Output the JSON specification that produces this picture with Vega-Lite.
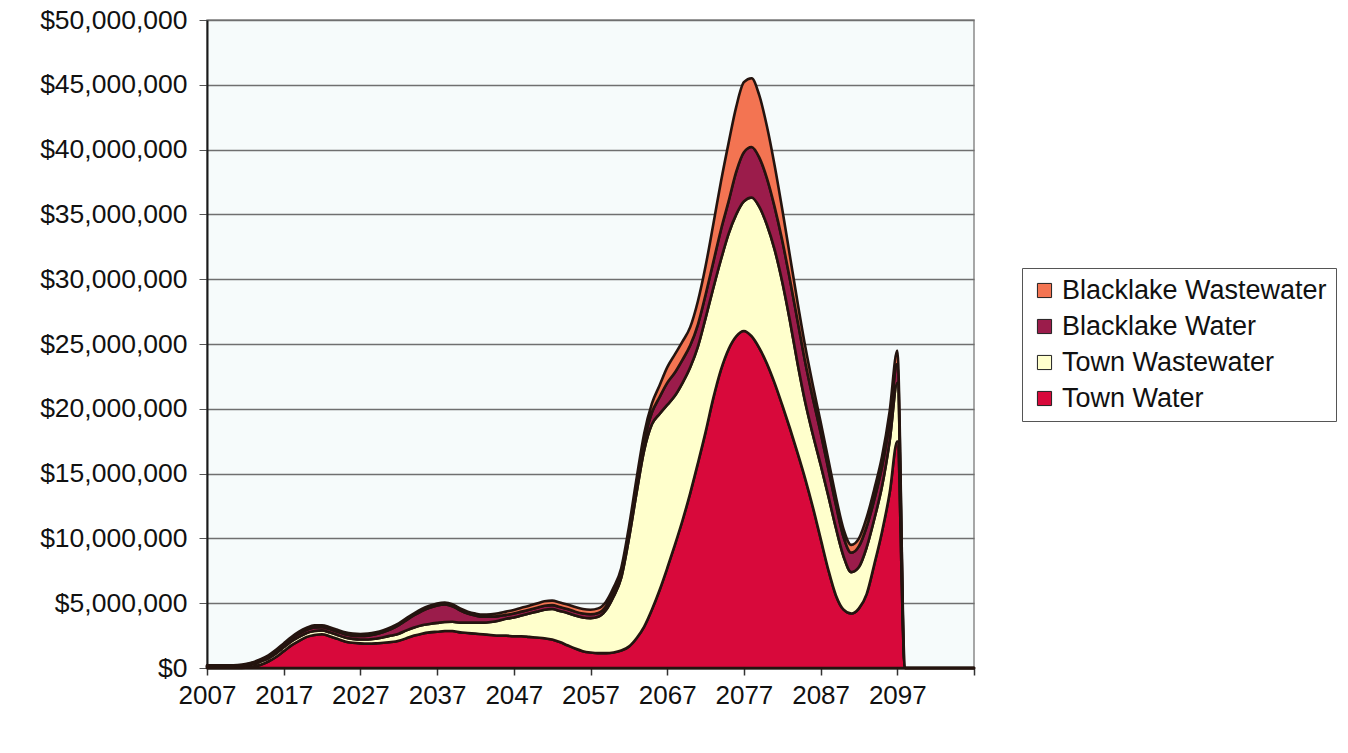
{
  "$schema": "https://vega.github.io/schema/vega-lite/v6.json",
  "width": 767,
  "height": 648,
  "autosize": {"type": "none"},
  "padding": {"left": 207, "top": 20, "right": 374, "bottom": 85},
  "background": "#ffffff",
  "config": {
    "font": "Liberation Sans",
    "view": {"fill": "#f6fbfb", "stroke": "#8a8a8a", "strokeWidth": 1.5}
  },
  "data": {
    "values": [
      {"year": 2007, "Town Water": 0, "Town Wastewater": 100000, "Blacklake Water": 50000, "Blacklake Wastewater": 50000},
      {"year": 2008, "Town Water": 0, "Town Wastewater": 100000, "Blacklake Water": 50000, "Blacklake Wastewater": 50000},
      {"year": 2009, "Town Water": 0, "Town Wastewater": 100000, "Blacklake Water": 50000, "Blacklake Wastewater": 50000},
      {"year": 2010, "Town Water": 0, "Town Wastewater": 100000, "Blacklake Water": 50000, "Blacklake Wastewater": 50000},
      {"year": 2011, "Town Water": 0, "Town Wastewater": 120000, "Blacklake Water": 60000, "Blacklake Wastewater": 50000},
      {"year": 2012, "Town Water": 20000, "Town Wastewater": 150000, "Blacklake Water": 80000, "Blacklake Wastewater": 50000},
      {"year": 2013, "Town Water": 100000, "Town Wastewater": 200000, "Blacklake Water": 100000, "Blacklake Wastewater": 50000},
      {"year": 2014, "Town Water": 250000, "Town Wastewater": 250000, "Blacklake Water": 120000, "Blacklake Wastewater": 60000},
      {"year": 2015, "Town Water": 500000, "Town Wastewater": 250000, "Blacklake Water": 150000, "Blacklake Wastewater": 80000},
      {"year": 2016, "Town Water": 850000, "Town Wastewater": 280000, "Blacklake Water": 170000, "Blacklake Wastewater": 100000},
      {"year": 2017, "Town Water": 1300000, "Town Wastewater": 300000, "Blacklake Water": 200000, "Blacklake Wastewater": 100000},
      {"year": 2018, "Town Water": 1750000, "Town Wastewater": 300000, "Blacklake Water": 220000, "Blacklake Wastewater": 120000},
      {"year": 2019, "Town Water": 2100000, "Town Wastewater": 300000, "Blacklake Water": 250000, "Blacklake Wastewater": 150000},
      {"year": 2020, "Town Water": 2400000, "Town Wastewater": 300000, "Blacklake Water": 250000, "Blacklake Wastewater": 150000},
      {"year": 2021, "Town Water": 2550000, "Town Wastewater": 300000, "Blacklake Water": 270000, "Blacklake Wastewater": 170000},
      {"year": 2022, "Town Water": 2600000, "Town Wastewater": 300000, "Blacklake Water": 250000, "Blacklake Wastewater": 150000},
      {"year": 2023, "Town Water": 2450000, "Town Wastewater": 300000, "Blacklake Water": 250000, "Blacklake Wastewater": 150000},
      {"year": 2024, "Town Water": 2250000, "Town Wastewater": 300000, "Blacklake Water": 250000, "Blacklake Wastewater": 150000},
      {"year": 2025, "Town Water": 2050000, "Town Wastewater": 300000, "Blacklake Water": 250000, "Blacklake Wastewater": 150000},
      {"year": 2026, "Town Water": 1950000, "Town Wastewater": 300000, "Blacklake Water": 250000, "Blacklake Wastewater": 150000},
      {"year": 2027, "Town Water": 1900000, "Town Wastewater": 300000, "Blacklake Water": 270000, "Blacklake Wastewater": 150000},
      {"year": 2028, "Town Water": 1880000, "Town Wastewater": 320000, "Blacklake Water": 300000, "Blacklake Wastewater": 150000},
      {"year": 2029, "Town Water": 1900000, "Town Wastewater": 360000, "Blacklake Water": 340000, "Blacklake Wastewater": 150000},
      {"year": 2030, "Town Water": 1950000, "Town Wastewater": 420000, "Blacklake Water": 400000, "Blacklake Wastewater": 150000},
      {"year": 2031, "Town Water": 2000000, "Town Wastewater": 500000, "Blacklake Water": 500000, "Blacklake Wastewater": 150000},
      {"year": 2032, "Town Water": 2100000, "Town Wastewater": 550000, "Blacklake Water": 650000, "Blacklake Wastewater": 150000},
      {"year": 2033, "Town Water": 2300000, "Town Wastewater": 600000, "Blacklake Water": 800000, "Blacklake Wastewater": 150000},
      {"year": 2034, "Town Water": 2500000, "Town Wastewater": 620000, "Blacklake Water": 950000, "Blacklake Wastewater": 150000},
      {"year": 2035, "Town Water": 2650000, "Town Wastewater": 650000, "Blacklake Water": 1100000, "Blacklake Wastewater": 150000},
      {"year": 2036, "Town Water": 2750000, "Town Wastewater": 650000, "Blacklake Water": 1250000, "Blacklake Wastewater": 150000},
      {"year": 2037, "Town Water": 2800000, "Town Wastewater": 680000, "Blacklake Water": 1350000, "Blacklake Wastewater": 150000},
      {"year": 2038, "Town Water": 2850000, "Town Wastewater": 700000, "Blacklake Water": 1350000, "Blacklake Wastewater": 150000},
      {"year": 2039, "Town Water": 2850000, "Town Wastewater": 720000, "Blacklake Water": 1200000, "Blacklake Wastewater": 150000},
      {"year": 2040, "Town Water": 2750000, "Town Wastewater": 750000, "Blacklake Water": 950000, "Blacklake Wastewater": 150000},
      {"year": 2041, "Town Water": 2700000, "Town Wastewater": 800000, "Blacklake Water": 700000, "Blacklake Wastewater": 150000},
      {"year": 2042, "Town Water": 2650000, "Town Wastewater": 850000, "Blacklake Water": 550000, "Blacklake Wastewater": 150000},
      {"year": 2043, "Town Water": 2600000, "Town Wastewater": 900000, "Blacklake Water": 450000, "Blacklake Wastewater": 170000},
      {"year": 2044, "Town Water": 2550000, "Town Wastewater": 1000000, "Blacklake Water": 400000, "Blacklake Wastewater": 200000},
      {"year": 2045, "Town Water": 2500000, "Town Wastewater": 1150000, "Blacklake Water": 350000, "Blacklake Wastewater": 220000},
      {"year": 2046, "Town Water": 2500000, "Town Wastewater": 1300000, "Blacklake Water": 300000, "Blacklake Wastewater": 250000},
      {"year": 2047, "Town Water": 2450000, "Town Wastewater": 1450000, "Blacklake Water": 300000, "Blacklake Wastewater": 270000},
      {"year": 2048, "Town Water": 2450000, "Town Wastewater": 1600000, "Blacklake Water": 300000, "Blacklake Wastewater": 300000},
      {"year": 2049, "Town Water": 2400000, "Town Wastewater": 1800000, "Blacklake Water": 300000, "Blacklake Wastewater": 300000},
      {"year": 2050, "Town Water": 2350000, "Town Wastewater": 2000000, "Blacklake Water": 300000, "Blacklake Wastewater": 320000},
      {"year": 2051, "Town Water": 2300000, "Town Wastewater": 2200000, "Blacklake Water": 300000, "Blacklake Wastewater": 350000},
      {"year": 2052, "Town Water": 2200000, "Town Wastewater": 2350000, "Blacklake Water": 300000, "Blacklake Wastewater": 350000},
      {"year": 2053, "Town Water": 2000000, "Town Wastewater": 2400000, "Blacklake Water": 300000, "Blacklake Wastewater": 350000},
      {"year": 2054, "Town Water": 1750000, "Town Wastewater": 2500000, "Blacklake Water": 300000, "Blacklake Wastewater": 350000},
      {"year": 2055, "Town Water": 1500000, "Town Wastewater": 2550000, "Blacklake Water": 300000, "Blacklake Wastewater": 350000},
      {"year": 2056, "Town Water": 1300000, "Town Wastewater": 2600000, "Blacklake Water": 300000, "Blacklake Wastewater": 350000},
      {"year": 2057, "Town Water": 1200000, "Town Wastewater": 2650000, "Blacklake Water": 300000, "Blacklake Wastewater": 350000},
      {"year": 2058, "Town Water": 1150000, "Town Wastewater": 2800000, "Blacklake Water": 300000, "Blacklake Wastewater": 350000},
      {"year": 2059, "Town Water": 1150000, "Town Wastewater": 3300000, "Blacklake Water": 300000, "Blacklake Wastewater": 350000},
      {"year": 2060, "Town Water": 1200000, "Town Wastewater": 4300000, "Blacklake Water": 350000, "Blacklake Wastewater": 350000},
      {"year": 2061, "Town Water": 1350000, "Town Wastewater": 5600000, "Blacklake Water": 400000, "Blacklake Wastewater": 350000},
      {"year": 2062, "Town Water": 1650000, "Town Wastewater": 8300000, "Blacklake Water": 500000, "Blacklake Wastewater": 400000},
      {"year": 2063, "Town Water": 2300000, "Town Wastewater": 11200000, "Blacklake Water": 600000, "Blacklake Wastewater": 500000},
      {"year": 2064, "Town Water": 3200000, "Town Wastewater": 13600000, "Blacklake Water": 700000, "Blacklake Wastewater": 600000},
      {"year": 2065, "Town Water": 4500000, "Town Wastewater": 14300000, "Blacklake Water": 900000, "Blacklake Wastewater": 700000},
      {"year": 2066, "Town Water": 6000000, "Town Wastewater": 13600000, "Blacklake Water": 1300000, "Blacklake Wastewater": 900000},
      {"year": 2067, "Town Water": 7700000, "Town Wastewater": 12600000, "Blacklake Water": 1700000, "Blacklake Wastewater": 1200000},
      {"year": 2068, "Town Water": 9500000, "Town Wastewater": 11500000, "Blacklake Water": 1800000, "Blacklake Wastewater": 1400000},
      {"year": 2069, "Town Water": 11400000, "Town Wastewater": 10600000, "Blacklake Water": 1800000, "Blacklake Wastewater": 1400000},
      {"year": 2070, "Town Water": 13500000, "Town Wastewater": 9700000, "Blacklake Water": 1700000, "Blacklake Wastewater": 1400000},
      {"year": 2071, "Town Water": 15800000, "Town Wastewater": 9000000, "Blacklake Water": 1700000, "Blacklake Wastewater": 1800000},
      {"year": 2072, "Town Water": 18200000, "Town Wastewater": 8800000, "Blacklake Water": 1800000, "Blacklake Wastewater": 2200000},
      {"year": 2073, "Town Water": 20800000, "Town Wastewater": 8500000, "Blacklake Water": 2000000, "Blacklake Wastewater": 2900000},
      {"year": 2074, "Town Water": 23000000, "Town Wastewater": 8500000, "Blacklake Water": 2300000, "Blacklake Wastewater": 3700000},
      {"year": 2075, "Town Water": 24600000, "Town Wastewater": 8900000, "Blacklake Water": 2500000, "Blacklake Wastewater": 4500000},
      {"year": 2076, "Town Water": 25600000, "Town Wastewater": 9400000, "Blacklake Water": 3300000, "Blacklake Wastewater": 5000000},
      {"year": 2077, "Town Water": 26000000, "Town Wastewater": 10000000, "Blacklake Water": 3800000, "Blacklake Wastewater": 5400000},
      {"year": 2078, "Town Water": 25600000, "Town Wastewater": 10700000, "Blacklake Water": 3900000, "Blacklake Wastewater": 5300000},
      {"year": 2079, "Town Water": 24700000, "Town Wastewater": 10900000, "Blacklake Water": 3800000, "Blacklake Wastewater": 4800000},
      {"year": 2080, "Town Water": 23500000, "Town Wastewater": 10700000, "Blacklake Water": 3600000, "Blacklake Wastewater": 4000000},
      {"year": 2081, "Town Water": 22000000, "Town Wastewater": 10300000, "Blacklake Water": 3300000, "Blacklake Wastewater": 3200000},
      {"year": 2082, "Town Water": 20300000, "Town Wastewater": 9500000, "Blacklake Water": 3200000, "Blacklake Wastewater": 2400000},
      {"year": 2083, "Town Water": 18500000, "Town Wastewater": 8300000, "Blacklake Water": 3200000, "Blacklake Wastewater": 1800000},
      {"year": 2084, "Town Water": 16600000, "Town Wastewater": 6900000, "Blacklake Water": 3300000, "Blacklake Wastewater": 1400000},
      {"year": 2085, "Town Water": 14600000, "Town Wastewater": 5900000, "Blacklake Water": 3100000, "Blacklake Wastewater": 1200000},
      {"year": 2086, "Town Water": 12400000, "Town Wastewater": 5600000, "Blacklake Water": 2800000, "Blacklake Wastewater": 1000000},
      {"year": 2087, "Town Water": 10000000, "Town Wastewater": 5700000, "Blacklake Water": 2500000, "Blacklake Wastewater": 800000},
      {"year": 2088, "Town Water": 7600000, "Town Wastewater": 5700000, "Blacklake Water": 2100000, "Blacklake Wastewater": 700000},
      {"year": 2089, "Town Water": 5600000, "Town Wastewater": 5200000, "Blacklake Water": 1800000, "Blacklake Wastewater": 600000},
      {"year": 2090, "Town Water": 4500000, "Town Wastewater": 4100000, "Blacklake Water": 1500000, "Blacklake Wastewater": 600000},
      {"year": 2091, "Town Water": 4200000, "Town Wastewater": 3200000, "Blacklake Water": 1500000, "Blacklake Wastewater": 600000},
      {"year": 2092, "Town Water": 4600000, "Town Wastewater": 3200000, "Blacklake Water": 1600000, "Blacklake Wastewater": 600000},
      {"year": 2093, "Town Water": 5700000, "Town Wastewater": 3600000, "Blacklake Water": 1600000, "Blacklake Wastewater": 700000},
      {"year": 2094, "Town Water": 8000000, "Town Wastewater": 3500000, "Blacklake Water": 1500000, "Blacklake Wastewater": 800000},
      {"year": 2095, "Town Water": 10500000, "Town Wastewater": 3500000, "Blacklake Water": 1500000, "Blacklake Wastewater": 800000},
      {"year": 2096, "Town Water": 13500000, "Town Wastewater": 4000000, "Blacklake Water": 1500000, "Blacklake Wastewater": 800000},
      {"year": 2097, "Town Water": 17500000, "Town Wastewater": 4500000, "Blacklake Water": 1500000, "Blacklake Wastewater": 1000000},
      {"year": 2098, "Town Water": 0, "Town Wastewater": 0, "Blacklake Water": 0, "Blacklake Wastewater": 0},
      {"year": 2107, "Town Water": 0, "Town Wastewater": 0, "Blacklake Water": 0, "Blacklake Wastewater": 0}
    ]
  },
  "transform": [
    {"fold": ["Town Water", "Town Wastewater", "Blacklake Water", "Blacklake Wastewater"], "as": ["series", "cost"]}
  ],
  "mark": {"type": "area", "interpolate": "monotone", "stroke": "#24140f", "strokeWidth": 2.6, "strokeJoin": "round"},
  "encoding": {
    "x": {
      "field": "year",
      "type": "quantitative",
      "scale": {"domain": [2007, 2107], "nice": false, "zero": false},
      "axis": {
        "title": null,
        "values": [2007, 2017, 2027, 2037, 2047, 2057, 2067, 2077, 2087, 2097, 2107],
        "format": "d",
        "labelExpr": "datum.value > 2100 ? '' : datum.label",
        "labelOverlap": false,
        "labelFlush": false,
        "grid": false,
        "domainColor": "#1a1a1a",
        "domainWidth": 2,
        "tickColor": "#333333",
        "tickSize": 7,
        "tickWidth": 1.5,
        "labelFontSize": 26,
        "labelColor": "#111111",
        "labelPadding": 7
      }
    },
    "y": {
      "field": "cost",
      "type": "quantitative",
      "stack": "zero",
      "scale": {"domain": [0, 50000000], "nice": false},
      "axis": {
        "title": null,
        "values": [0, 5000000, 10000000, 15000000, 20000000, 25000000, 30000000, 35000000, 40000000, 45000000, 50000000],
        "format": "$,.0f",
        "labelOverlap": false,
        "labelFlush": false,
        "grid": true,
        "gridColor": "#6f6f6f",
        "gridWidth": 1.5,
        "domainColor": "#1a1a1a",
        "domainWidth": 2,
        "tickColor": "#555555",
        "tickSize": 8,
        "labelFontSize": 26.5,
        "labelColor": "#111111",
        "labelPadding": 12
      }
    },
    "color": {
      "field": "series",
      "type": "nominal",
      "scale": {
        "domain": ["Blacklake Wastewater", "Blacklake Water", "Town Wastewater", "Town Water"],
        "range": ["#f37452", "#9b1c4b", "#ffffcc", "#d8093b"]
      },
      "legend": {
        "title": null,
        "orient": "none",
        "legendX": 815,
        "legendY": 248,
        "direction": "vertical",
        "symbolType": "square",
        "symbolSize": 200,
        "symbolStrokeColor": "#222222",
        "symbolStrokeWidth": 1,
        "symbolOpacity": 1,
        "labelFontSize": 27,
        "labelColor": "#111111",
        "labelOffset": 4,
        "labelLimit": 400,
        "rowPadding": 8,
        "padding": 9,
        "strokeColor": "#555555",
        "fillColor": "#ffffff"
      }
    },
    "order": {"field": "series", "sort": "descending"}
  }
}
